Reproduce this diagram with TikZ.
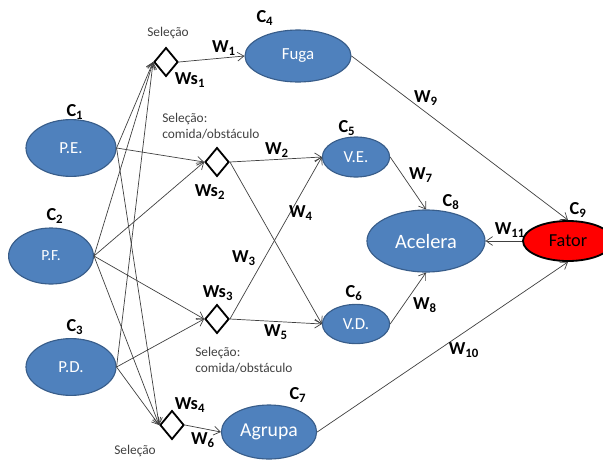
\documentclass[tikz,border=0pt]{standalone}
\usepackage{fontspec}
\setmainfont{Carlito}
\usetikzlibrary{shapes.geometric,arrows.meta}
\definecolor{cellblue}{HTML}{4F81BD}
\definecolor{cellline}{HTML}{385D8A}
\newcommand{\idx}[2]{\textbf{#1\textsubscript{#2}}}

\begin{document}
\begin{tikzpicture}[x=0.025cm,y=-0.025cm,
	cell/.style={ellipse,fill=cellblue,draw=cellline,line width=0.8pt,text=white,inner sep=0pt,font=\fontsize{12}{14}\selectfont},
	gate/.style={diamond,draw=black,line width=1.3pt,fill=white,inner sep=0pt,minimum width=0.6cm,minimum height=0.72cm},
	wlabel/.style={font=\fontsize{13}{15}\selectfont},
	note/.style={text=black!75,font=\fontsize{9.5}{11.4}\selectfont,align=left,inner sep=0pt},
	link/.style={draw=black!75,line width=0.5pt,-{Straight Barb[length=1.6mm,width=2.2mm]}}]
	\useasboundingbox (0,0) rectangle (603,461);
	% inputs
	\node[cell,minimum width=2.25cm,minimum height=1.42cm] (pe) at (71,148) {P.E.};
	\node[cell,minimum width=2.12cm,minimum height=1.4cm,font=\fontsize{11}{13}\selectfont] (pf) at (51,256) {P.F.};
	\node[cell,minimum width=2.25cm,minimum height=1.42cm] (pd) at (71,367) {P.D.};
	\node[wlabel] at (75,112) {\idx{C}{1}};
	\node[wlabel] at (55,216) {\idx{C}{2}};
	\node[wlabel] at (75,327) {\idx{C}{3}};
	% selection gates
	\node[gate] (ws1) at (166,62) {};
	\node[gate] (ws2) at (217,162) {};
	\node[gate] (ws3) at (217,319) {};
	\node[gate] (ws4) at (172,425) {};
	\node[wlabel] at (190,80) {\idx{Ws}{1}};
	\node[wlabel] at (210,192) {\idx{Ws}{2}};
	\node[wlabel] at (218,293) {\idx{Ws}{3}};
	\node[wlabel] at (190,405) {\idx{Ws}{4}};
	\node[note] at (168,33) {Seleção};
	\node[note,anchor=west] at (162,126) {Seleção:\\comida/obstáculo};
	\node[note,anchor=west] at (195,360) {Seleção:\\comida/obstáculo};
	\node[note] at (135,451) {Seleção};
	% behaviours
	\node[cell,minimum width=2.65cm,minimum height=1.3cm] (fuga) at (298,56) {Fuga};
	\node[cell,minimum width=1.68cm,minimum height=1.0cm] (ve) at (356,157) {V.E.};
	\node[cell,minimum width=1.68cm,minimum height=0.98cm] (vd) at (356,324) {V.D.};
	\node[cell,minimum width=2.38cm,minimum height=1.35cm,font=\fontsize{14}{16}\selectfont] (agrupa) at (269,432) {Agrupa};
	\node[cell,minimum width=2.95cm,minimum height=1.55cm,font=\fontsize{14.5}{17}\selectfont] (acelera) at (426,241) {Acelera};
	\node[ellipse,fill=red,draw=black,line width=1.3pt,inner sep=0pt,minimum width=2.25cm,minimum height=1.0cm,font=\fontsize{13}{15}\selectfont] (fator) at (568,241) {Fator};
	\node[wlabel] at (265,18) {\idx{C}{4}};
	\node[wlabel] at (347,128) {\idx{C}{5}};
	\node[wlabel] at (354,293) {\idx{C}{6}};
	\node[wlabel] at (298,395) {\idx{C}{7}};
	\node[wlabel] at (451,202) {\idx{C}{8}};
	\node[wlabel] at (578,210) {\idx{C}{9}};
	% inputs to gates
	\foreach \s in {pe,pf,pd} {
		\draw[link] (\s.east) -- (ws1.west);
		\draw[link] (\s.east) -- (ws4.west);
	}
	\draw[link] (pe.east) -- (ws2.west);
	\draw[link] (pf.east) -- (ws2.west);
	\draw[link] (pf.east) -- (ws3.west);
	\draw[link] (pd.east) -- (ws3.west);
	% gates to behaviours
	\draw[link] (ws1.east) -- (fuga.west);
	\draw[link] (ws2.east) -- (ve.west);
	\draw[link] (ws2.east) -- (vd.west);
	\draw[link] (ws3.east) -- (ve.west);
	\draw[link] (ws3.east) -- (vd.west);
	\draw[link] (ws4.east) -- (agrupa.west);
	\draw[link] (ve.east) -- (acelera.north);
	\draw[link] (vd.east) -- (acelera.south);
	\draw[link] (fuga.east) -- (fator.north);
	\draw[link] (agrupa.east) -- (fator.south);
	\draw[link] (fator.west) -- (acelera.east);
	% weights
	\node[wlabel] at (224,48) {\idx{W}{1}};
	\node[wlabel] at (277,150) {\idx{W}{2}};
	\node[wlabel] at (244,258) {\idx{W}{3}};
	\node[wlabel] at (301,213) {\idx{W}{4}};
	\node[wlabel] at (276,332) {\idx{W}{5}};
	\node[wlabel] at (203,440) {\idx{W}{6}};
	\node[wlabel] at (421,175) {\idx{W}{7}};
	\node[wlabel] at (425,305) {\idx{W}{8}};
	\node[wlabel] at (426,98) {\idx{W}{9}};
	\node[wlabel] at (464,350) {\idx{W}{10}};
	\node[wlabel] at (510,230) {\idx{W}{11}};
\end{tikzpicture}
\end{document}
